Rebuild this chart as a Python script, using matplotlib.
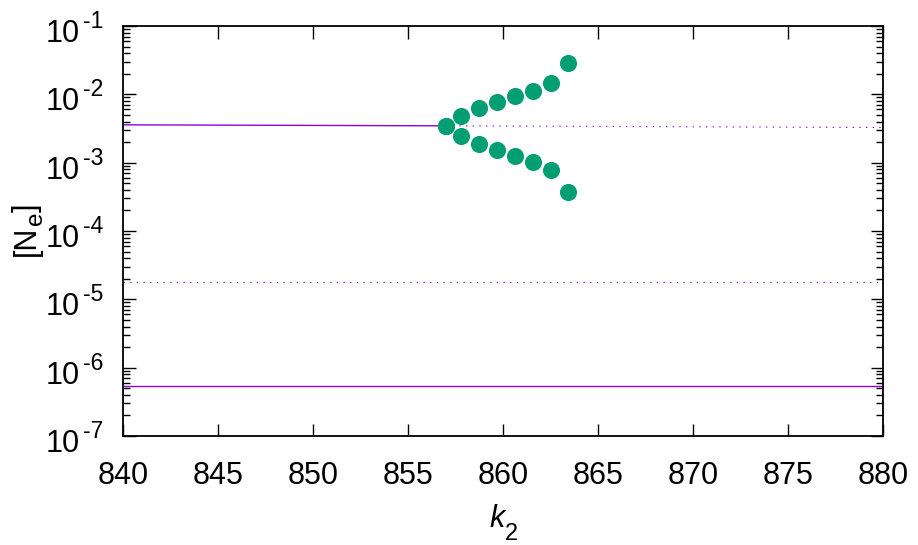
import numpy as np
import matplotlib
matplotlib.use("Agg")
import matplotlib.pyplot as plt
from matplotlib.ticker import FixedLocator, LogLocator, NullFormatter
from matplotlib.transforms import offset_copy

plt.rcParams['font.family'] = 'Liberation Sans'

# stable branch (solid) and unstable branch (dotted)
k_stable = [840, 857.0]
n_stable = [3.58e-3, 3.46e-3]
k_unstable = [857.0, 880]
n_unstable = [3.46e-3, 3.27e-3]

# middle dotted branch and lower solid branch
k_full = [840, 880]
n_mid = [1.77e-5, 1.77e-5]
n_low = [5.35e-7, 5.35e-7]

# periodic orbit extrema
k_orbit = [857.0, 857.8, 858.75, 859.7, 860.65, 861.6, 862.55, 863.4]
n_max = [3.46e-3, 4.84e-3, 6.25e-3, 7.64e-3, 9.33e-3, 1.13e-2, 1.45e-2, 2.89e-2]
n_min = [3.46e-3, 2.44e-3, 1.87e-3, 1.51e-3, 1.25e-3, 1.01e-3, 7.93e-4, 3.66e-4]

x_ticks = np.arange(840, 881, 5)
y_exponents = list(range(-7, 0))

purple = '#9400d3'
green = '#009e73'
dots = (0, (1.2, 4.8))
fs = 22
fs_small = 16.5

fig = plt.figure(figsize=(9.18, 5.45), dpi=100)
ax = fig.add_axes([123/918, 1 - 436/545, 760/918, 410/545])

ax.plot(k_stable, n_stable, color=purple, lw=1.0)
ax.plot(k_unstable, n_unstable, color=purple, lw=0.8, linestyle=dots)
ax.plot(k_full, n_mid, color=purple, lw=0.8, linestyle=dots)
ax.plot(k_full, n_low, color=purple, lw=1.0)
ax.plot(k_orbit, n_max, 'o', color=green, ms=12.3, mec='none')
ax.plot(k_orbit, n_min, 'o', color=green, ms=12.3, mec='none')

ax.set_yscale('log')
ax.set_xlim(840, 880)
ax.set_ylim(1e-7, 1e-1)
ax.xaxis.set_major_locator(FixedLocator(x_ticks))
ax.set_yticks([10.0**e for e in y_exponents])
ax.set_yticklabels([''] * len(y_exponents))
ax.yaxis.set_minor_locator(LogLocator(base=10, subs=np.arange(2, 10), numticks=20))
ax.yaxis.set_minor_formatter(NullFormatter())

ax.tick_params(which='both', direction='in', top=True, right=True,
               labelsize=fs, width=1.0, colors='black')
ax.tick_params(which='major', length=9)
ax.tick_params(which='minor', length=5)
ax.tick_params(axis='x', pad=18)
for s in ax.spines.values():
    s.set_linewidth(1.3)

# gnuplot-style y tick labels: 10 with a raised exponent
ytr = ax.get_yaxis_transform()
for e in y_exponents:
    ax.text(0, 10.0**e, '10', fontsize=fs, ha='right', va='baseline',
            transform=offset_copy(ytr, fig, x=-43, y=-16, units='dots'))
    ax.text(0, 10.0**e, '-%d' % -e, fontsize=fs_small, ha='left', va='baseline',
            transform=offset_copy(ytr, fig, x=-40, y=-2, units='dots'))

# x label k_2
ax.text(0.5, 0, 'k', fontsize=fs, style='italic', ha='right', va='baseline',
        transform=offset_copy(ax.transAxes, fig, x=2, y=-91, units='dots'))
ax.text(0.5, 0, '2', fontsize=17, ha='left', va='baseline',
        transform=offset_copy(ax.transAxes, fig, x=2, y=-104, units='dots'))

# y label [N_e]
fig.text(35/918, 1 - 256/545, '[N', fontsize=fs, rotation=90,
         rotation_mode='anchor', ha='left', va='baseline')
fig.text(42/918, 1 - 225/545, 'e', fontsize=17.5, rotation=90,
         rotation_mode='anchor', ha='left', va='baseline')
fig.text(35/918, 1 - 211.5/545, ']', fontsize=fs, rotation=90,
         rotation_mode='anchor', ha='left', va='baseline')

fig.savefig('out.png', dpi=100)
